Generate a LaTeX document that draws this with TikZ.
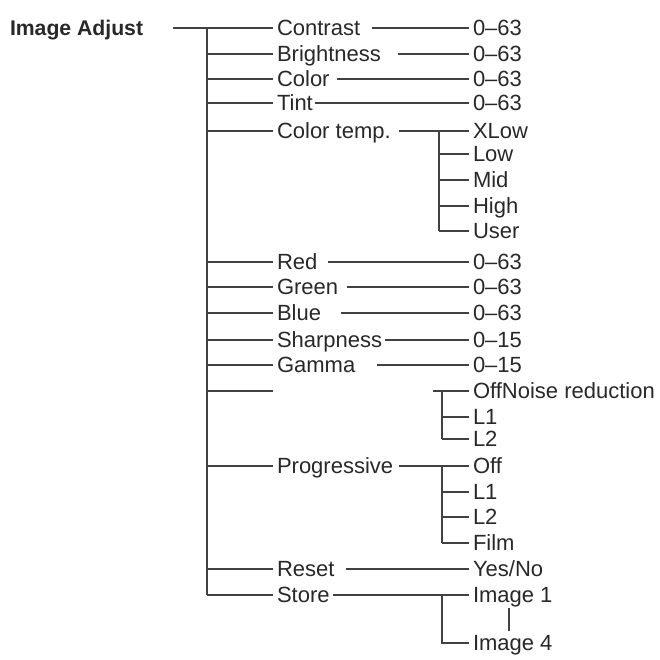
\documentclass[tikz,border=0pt]{standalone}
\usepackage{fontspec}
\setmainfont{Liberation Sans}
\usepackage{tikz}
\usetikzlibrary{positioning,calc}
\definecolor{ink}{RGB}{40,40,40}
\definecolor{wire}{RGB}{65,65,65}

\begin{document}
\begin{tikzpicture}[x=1pt,y=-1pt,
        every node/.style={inner sep=0pt,outer xsep=4pt,anchor=west,
            text height=15.7pt,text depth=0pt,text=ink,
            font=\fontsize{22}{22}\selectfont},
        lnk/.style={draw=wire,line width=1.9pt}]
    \useasboundingbox (0,0) rectangle (659,660);
    \node[font=\fontsize{21.2}{22}\selectfont\bfseries] (adj) at (6,28) {Image Adjust};
    % main trunk
    \coordinate (top) at (207,28);
    \coordinate (bot) at (207,595);
    \draw[lnk] (top) -- (bot);
    \foreach \nm/\lbl/\yy in {cont/Contrast/28, brig/Brightness/54, colr/Color/79,
            tint/Tint/103, ctmp/Color temp./131, red/Red/262, grn/Green/287,
            blue/Blue/313, shrp/Sharpness/340, gamm/Gamma/365, nois//391,
            prog/Progressive/466, rset/Reset/569, stor/Store/595} {
        \node (\nm) at (273,\yy) {\lbl};
        \coordinate (b\nm) at (207,\yy);
        \draw[lnk] (b\nm) -- (\nm.west);
    }
    \draw[lnk] ([xshift=26pt]adj.east) -- (cont.west);
    % values
    \foreach \nm/\val/\yy/\gap in {cont/0--63/28/8, brig/0--63/54/13, colr/0--63/79/3,
            tint/0--63/103/-2, red/0--63/262/7, grn/0--63/287/5, blue/0--63/313/16,
            shrp/0--15/340/-1, gamm/0--15/365/18} {
        \node (v\nm) at (469,\yy) {\val};
        \draw[lnk] ([xshift=\gap pt]\nm.east) -- (v\nm.west);
    }
    \node (vrset) at (469,569) {Yes/No};
    \draw[lnk] ([xshift=8pt]rset.east) -- (vrset.west);
    % color temp.
    \foreach \nm/\val/\yy in {xlow/XLow/131, low/Low/154, mid/Mid/180, high/High/206, user/User/231} {
        \node (\nm) at (469,\yy) {\val};
        \coordinate (c\nm) at (439,\yy);
        \draw[lnk] (c\nm) -- (\nm.west);
    }
    \draw[lnk] ([xshift=4pt]ctmp.east) -- (xlow.west);
    \draw[lnk] (cxlow) -- (cuser);
    % noise reduction
    \foreach \nm/\val/\yy in {noff/OffNoise reduction/391, nla/L1/417, nlb/L2/439} {
        \node (\nm) at (469,\yy) {\val};
        \coordinate (c\nm) at (442,\yy);
        \draw[lnk] (c\nm) -- (\nm.west);
    }
    \draw[lnk] (cnoff) -- (cnlb);
    \draw[lnk] ([xshift=-9pt]cnoff) -- (cnoff);
    % progressive
    \foreach \nm/\val/\yy in {poff/Off/466, pla/L1/492, plb/L2/517, film/Film/543} {
        \node (\nm) at (469,\yy) {\val};
        \coordinate (c\nm) at (442,\yy);
        \draw[lnk] (c\nm) -- (\nm.west);
    }
    \draw[lnk] ([xshift=2pt]prog.east) -- (poff.west);
    \draw[lnk] (cpoff) -- (cfilm);
    % store
    \node (imga) at (469,595) {Image 1};
    \node (imgd) at (469,643) {Image 4};
    \coordinate (cimgd) at (442,643);
    \draw[lnk] ([xshift=-1pt]stor.east) -- (imga.west);
    \draw[lnk] (442,595) -- (cimgd) -- (imgd.west);
    \draw[lnk] ([yshift=-5pt]imga.south -| 509,0) -- ([yshift=4pt]imgd.north -| 509,0);
\end{tikzpicture}
\end{document}
